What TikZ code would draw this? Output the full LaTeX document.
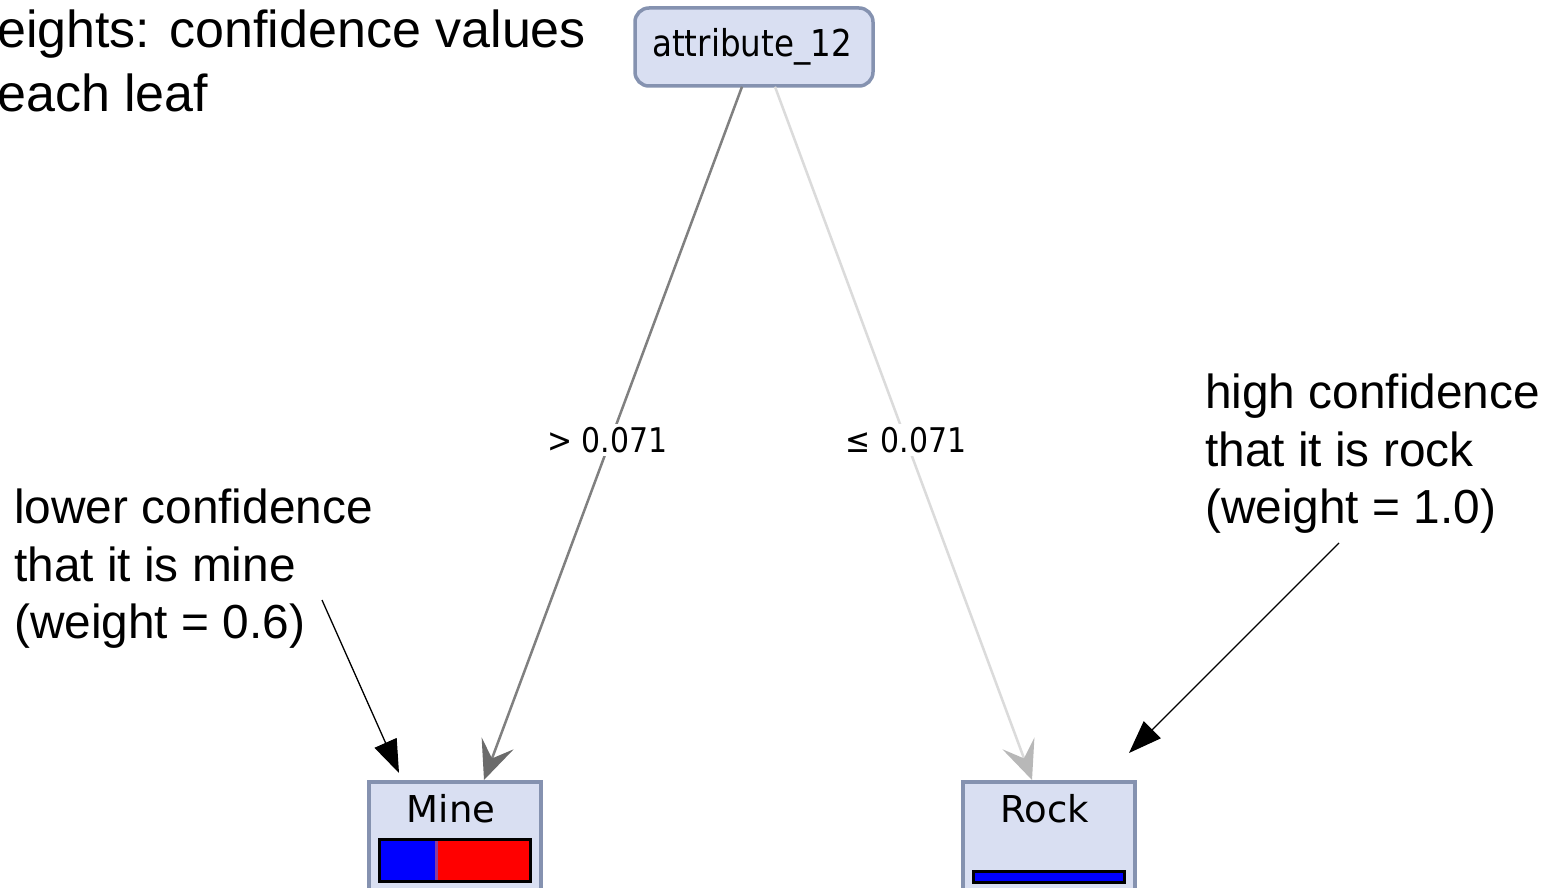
\documentclass[tikz,border=0pt]{standalone}
\usepackage{fontspec}
\setmainfont{Liberation Sans}
\newfontfamily\treefont[FakeStretch=0.88]{DejaVu Sans}
\newfontfamily\leaffont{DejaVu Sans}
\usetikzlibrary{arrows.meta}
\definecolor{boxfill}{HTML}{D9DFF2}
\definecolor{boxline}{HTML}{8592B0}
\definecolor{barpurple}{HTML}{8A3C9C}
\tikzset{
  rootbox/.style={draw=boxline, fill=boxfill, line width=3.5pt, rounded corners=14pt,
    minimum width=238pt, minimum height=78pt, inner sep=0pt},
  leafbox/.style={draw=boxline, fill=boxfill, line width=3.5pt,
    minimum width=172pt, minimum height=140pt, inner sep=0pt, anchor=north},
  treetext/.style={font=\treefont\fontsize{37}{40}\selectfont, inner sep=0pt},
  leaftext/.style={font=\leaffont\fontsize{37}{40}\selectfont, inner sep=0pt, anchor=base},
  edgelabel/.style={font=\treefont\fontsize{34}{36}\selectfont, fill=white, inner sep=3pt},
  edgeA/.style={draw=black!50, line width=2.5pt,
    -{Stealth[length=39pt,width=34pt,inset=16pt,fill=black!58,color=black!58]}},
  edgeB/.style={draw=black!14, line width=2.5pt,
    -{Stealth[length=39pt,width=34pt,inset=16pt,fill=black!28,color=black!28]}},
  note/.style={font=\fontsize{47.8}{57.5}\selectfont, align=left, inner sep=0pt, anchor=north west},
  notearrow/.style={draw=black, line width=1.3pt, -{Triangle[length=33pt,width=24pt]}},
}
\begin{document}
\begin{tikzpicture}[x=1pt,y=-1pt]
\useasboundingbox (0,0) rectangle (1556,888);
\fill[white] (0,0) rectangle (1556,888);

% top-left annotation (cut off at the left)
\node[font=\fontsize{52}{64}\selectfont, align=left, inner sep=0pt, anchor=north west] (topnote) at (-3,10)
  {eights: confidence values\\each leaf};

% root
\node[rootbox] (root) at (754,47) {};
\node[treetext] (roottext) at (752,47) {attribute\_12};

% leaves
\node[leafbox] (mine) at (455,780) {};
\node[leaftext] (minetext) at (451,822) {Mine};
\node[leafbox] (rock) at (1049,780) {};
\node[leaftext] (rocktext) at (1045,822) {Rock};

% Mine bar
\fill[blue] (379,838) rectangle (436,883);
\fill[red] (436,838) rectangle (531,883);
\draw[barpurple, line width=2.5pt] (436.5,839) -- (436.5,882);
\draw[black, line width=3pt] (379.5,839.5) rectangle (530.5,881.5);
% Rock bar
\fill[blue] (972,870) rectangle (1126,884);
\draw[black, line width=3pt] (973.5,871.5) rectangle (1124.5,882.5);

% tree edges
\draw[edgeA] ([xshift=-12pt,yshift=1pt]root.south) -- ([xshift=29pt]mine.north)
  node[edgelabel, pos=0.51, xshift=-3pt] (lblA) {> 0.071};
\draw[edgeB] ([xshift=21pt,yshift=1pt]root.south) -- ([xshift=-17pt]rock.north)
  node[edgelabel, pos=0.51] (lblB) {≤ 0.071};

% annotations
\node[note] (leftnote) at (14,489) {lower confidence\\that it is mine\\(weight = 0.6)};
\node[note] (rightnote) at (1205,374) {high confidence\\that it is rock\\(weight = 1.0)};
\coordinate (la) at (322,600);
\coordinate (lb) at (399,773);
\coordinate (ra) at (1339,543);
\coordinate (rb) at (1129,753);
\draw[notearrow] (la) -- (lb);
\draw[notearrow] (ra) -- (rb);
\end{tikzpicture}
\end{document}
